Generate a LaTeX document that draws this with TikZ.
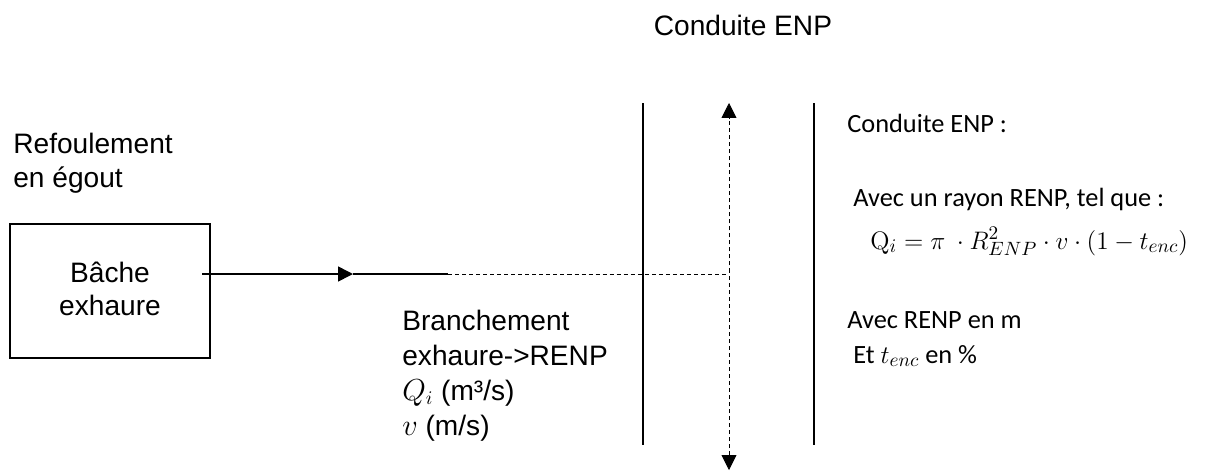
\documentclass[tikz,border=0pt]{standalone}
\usepackage[no-math]{fontspec}
\setmainfont{Liberation Sans}
\newfontfamily\calibri{Carlito}
\usetikzlibrary{calc,arrows.meta}

\tikzset{
  arial/.style = {font=\fontsize{16}{19}\selectfont, inner sep=0pt, anchor=base west},
  calib/.style = {font=\calibri\fontsize{15}{18}\selectfont, inner sep=0pt, anchor=base west},
  wall/.style = {line width=1.1pt},
  flow/.style = {line width=0.9pt},
  tri/.style = {-{Triangle[length=8.5pt, width=8.5pt]}},
}

\begin{document}
\begin{tikzpicture}[x=0.02cm, y=-0.02cm]
    \useasboundingbox(0,0)rectangle(1205,471);
    % titre
    \node[arial, anchor=base](titre)at(743,35){Conduite ENP};
    \node[arial](refoul1)at(13,153){Refoulement};
    \node[arial](refoul2)at(13,187){en égout};
    % bâche
    \node[draw, wall, minimum width=4cm, minimum height=2.68cm, inner sep=0pt](bache)at(110,291){};
    \node[arial, anchor=base](bache1)at(110,282){Bâche};
    \node[arial, anchor=base](bache2)at(110,315){exhaure};
    % branchement
    \coordinate(S)at(202,274);
    \coordinate(M)at(353,274);
    \coordinate(N)at(448,274);
    \coordinate(P)at(729,274);
    \path[draw, flow, tri](S)to(M);
    \path[draw, flow](M)to(N);
    \path[draw, thin, dash pattern=on 2.3pt off 1.7pt](N)to(P);
    \node[arial](br1)at(402,330){Branchement};
    \node[arial](br2)at(402,365){exhaure->RENP};
    \node[arial](br3)at(402,400){$Q_i$ (m³/s)};
    \node[arial](br4)at(402,435){$v$ (m/s)};
    % conduite
    \coordinate(L1)at(643,103);
    \coordinate(L2)at(643,445);
    \coordinate(R1)at(814,103);
    \coordinate(R2)at(814,445);
    \coordinate(T)at(729,103);
    \coordinate(B)at(729,470);
    \path[draw, wall](L1)to(L2);
    \path[draw, wall](R1)to(R2);
    \path[draw, thin, dash pattern=on 2.3pt off 1.7pt, {Triangle[length=8.5pt, width=8.5pt]}-{Triangle[length=8.5pt, width=8.5pt]}](B)to(T);
    % texte conduite
    \node[calib](c1)at(847,132){Conduite ENP :};
    \node[calib](c2)at(853,206){Avec un rayon RENP, tel que :};
    \node[calib](c3)at(870,249){$\mathrm{Q}_i = \pi\ \cdot R^2_{ENP}\cdot v\cdot(1-t_{enc})$};
    \node[calib](c4)at(847,328){Avec RENP en m};
    \node[calib](c5)at(853,363){Et $t_{enc}$ en \%};
\end{tikzpicture}
\end{document}
